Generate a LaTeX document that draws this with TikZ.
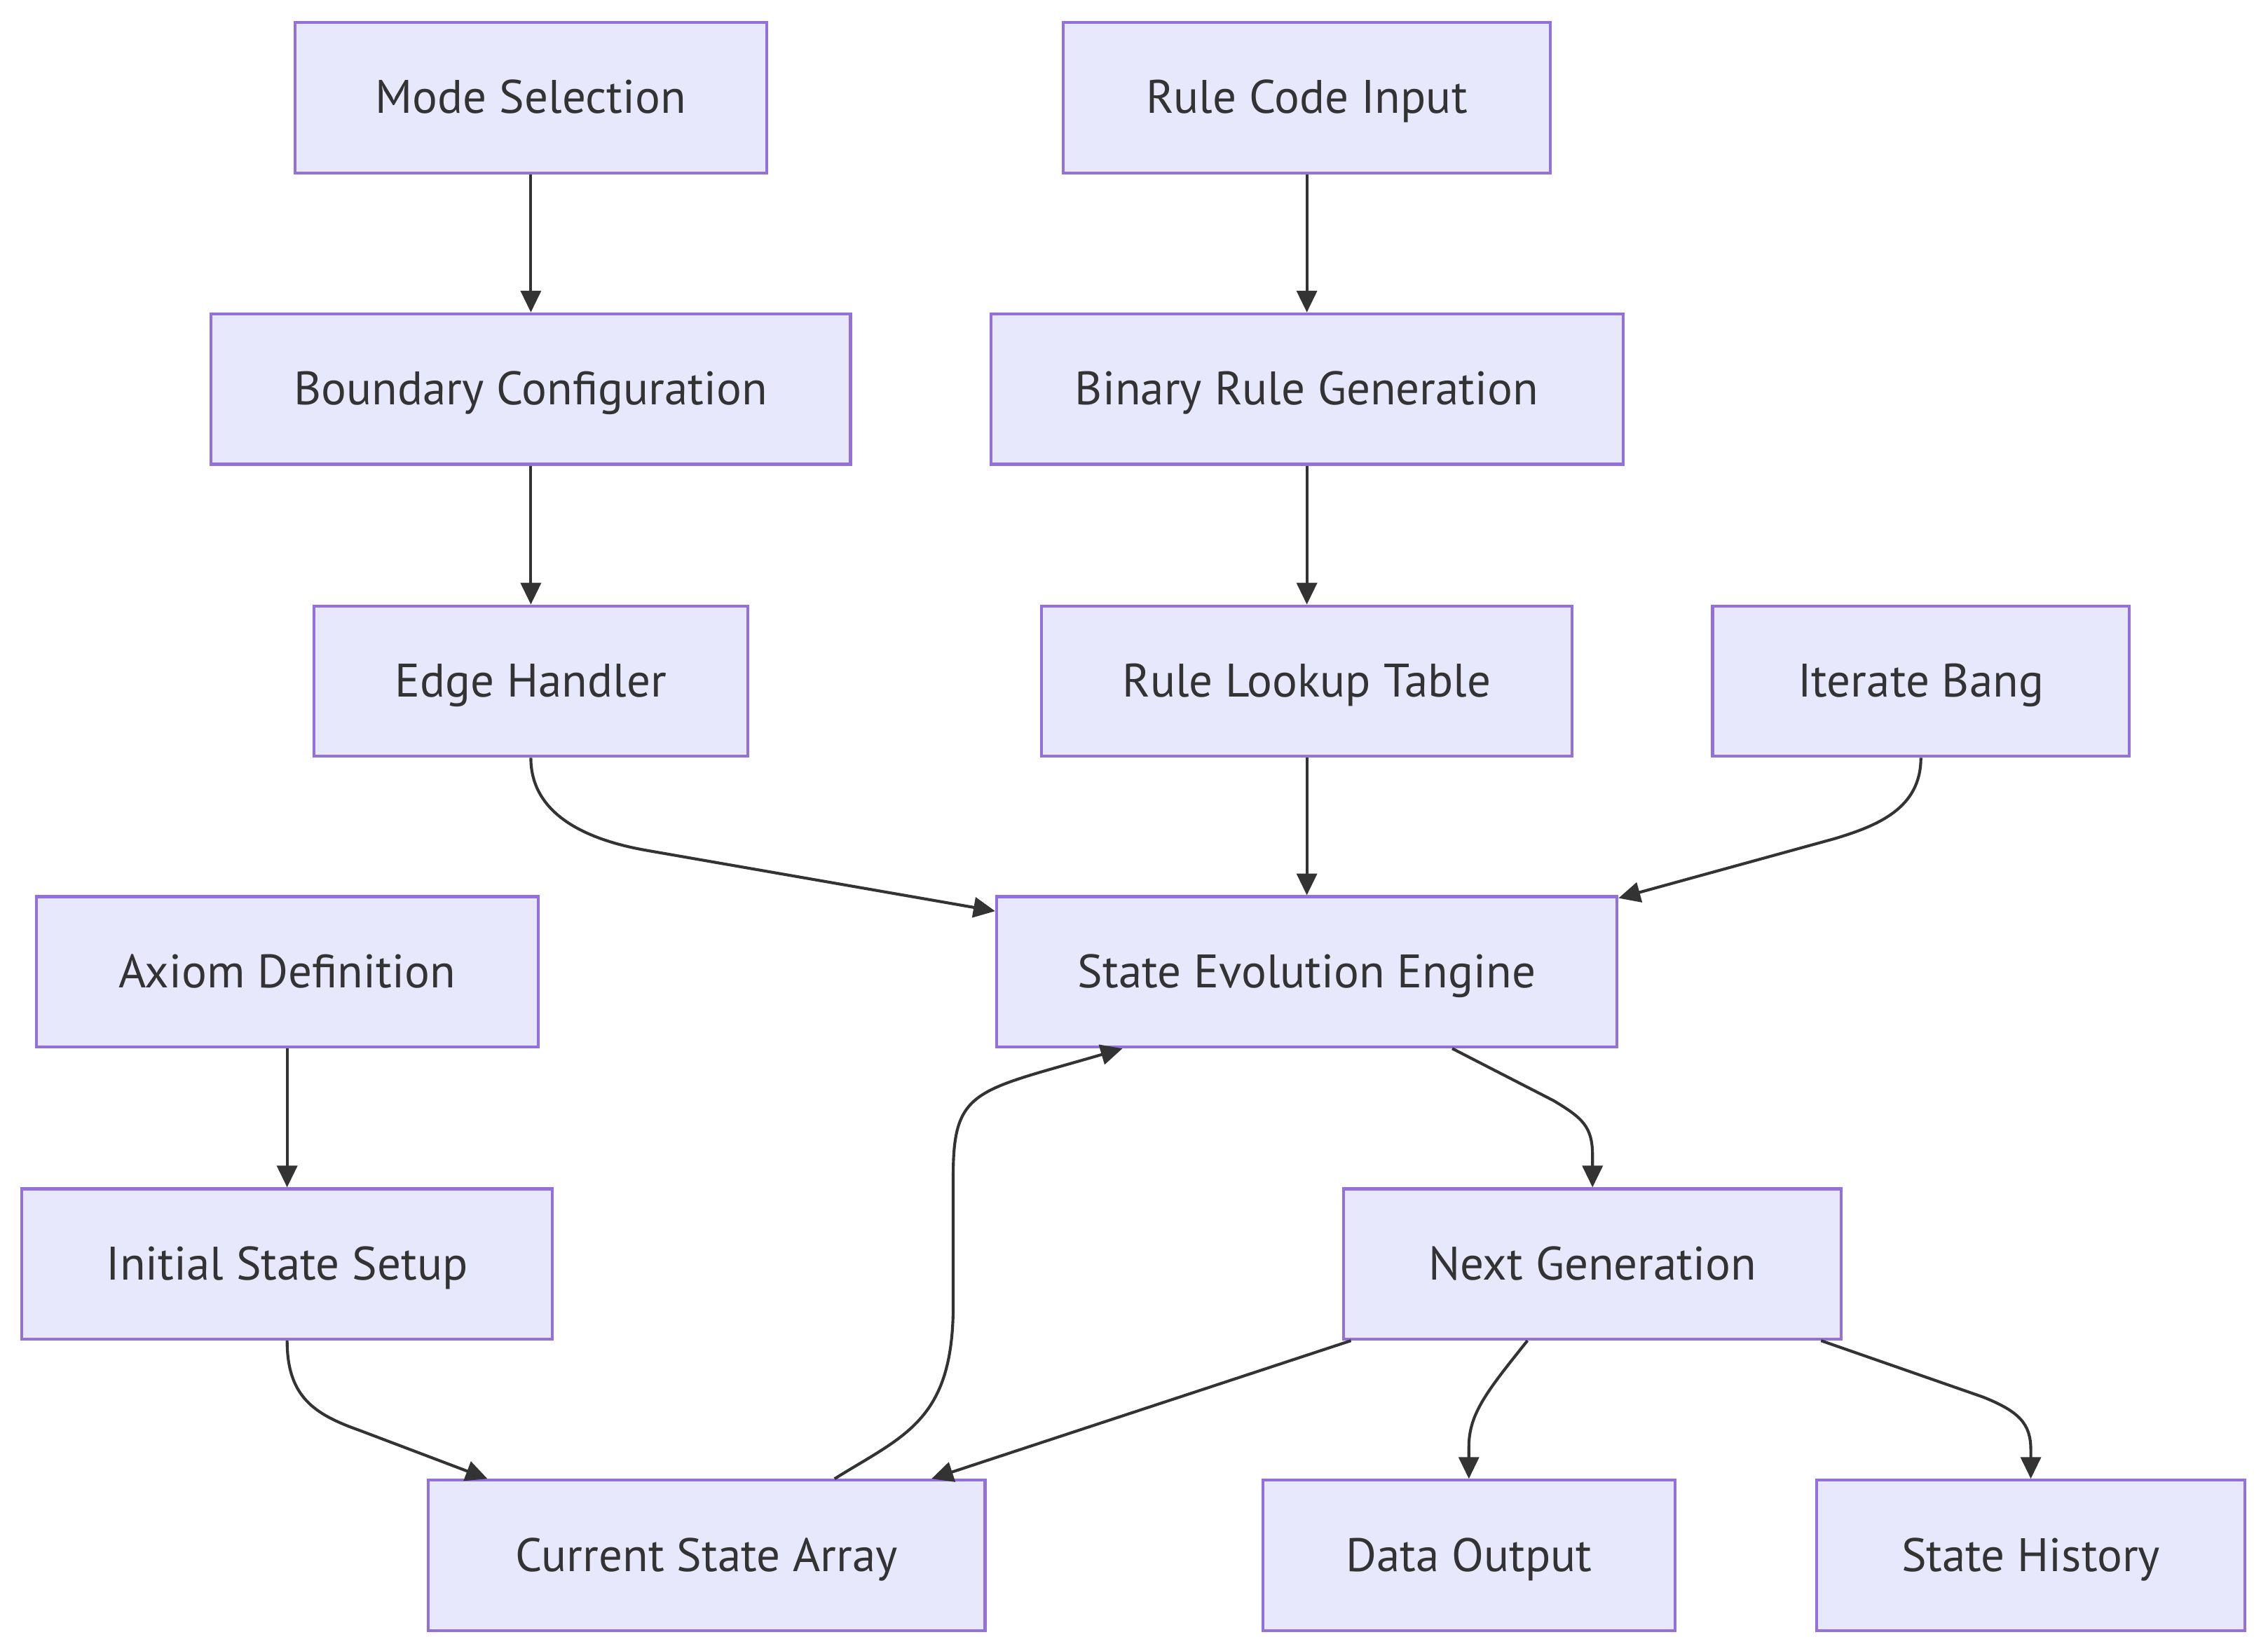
\documentclass[tikz,border=0pt]{standalone}
\usepackage{fontspec}
\setmainfont{PT Sans}
\usetikzlibrary{arrows.meta,calc}
\definecolor{boxfill}{HTML}{E8E8FC}
\definecolor{boxline}{HTML}{9370DB}
\definecolor{linec}{HTML}{333333}
\tikzset{
  box/.style={draw=boxline, fill=boxfill, line width=2pt, minimum height=104pt, inner sep=0pt,
    text height=25pt, text depth=3pt,
    text=linec, font=\fontsize{32.5}{38}\selectfont},
  arr/.style={draw=linec, line width=2pt, -{Triangle[length=15pt,width=14pt]}},
}
\begin{document}
\begin{tikzpicture}[x=1pt,y=-1pt]
\useasboundingbox (0,0) rectangle (1568,1141.6);
\node[box, minimum width=326pt] (mode) at (367,67.5) {Mode Selection};
\node[box, minimum width=337pt] (rule) at (903.5,67.5) {Rule Code Input};
\node[box, minimum width=442pt] (bound) at (367,269) {Boundary Configuration};
\node[box, minimum width=437pt] (binary) at (903.5,269) {Binary Rule Generation};
\node[box, minimum width=300pt] (edge) at (367,471) {Edge Handler};
\node[box, minimum width=367pt] (lookup) at (903.5,471) {Rule Lookup Table};
\node[box, minimum width=288pt] (iter) at (1328,471) {Iterate Bang};
\node[box, minimum width=347pt] (axiom) at (198.5,672) {Axiom Definition};
\node[box, minimum width=429pt] (engine) at (903.5,672) {State Evolution Engine};
\node[box, minimum width=367pt] (init) at (198.5,874) {Initial State Setup};
\node[box, minimum width=344pt] (next) at (1101,874) {Next Generation};
\node[box, minimum width=385pt] (current) at (488.5,1075.5) {Current State Array};
\node[box, minimum width=285pt] (data) at (1015.5,1075.5) {Data Output};
\node[box, minimum width=296pt] (hist) at (1404,1075.5) {State History};

\draw[arr] (mode) -- (bound);
\draw[arr] (bound) -- (edge);
\draw[arr] (rule) -- (binary);
\draw[arr] (binary) -- (lookup);
\draw[arr] (lookup) -- (engine);
\draw[arr] (axiom) -- (init);

\draw[arr] (edge.south) .. controls ($(edge.south)+(0,40)$) and ($(edge.south)+(40,57)$) .. ($(edge.south)+(80,64)$)
  -- ($(engine.north west)+(0,11)$);
\draw[arr] (iter.south) .. controls ($(iter.south)+(0,35)$) and ($(iter.south)+(-30,47)$) .. ($(iter.south)+(-60,56)$)
  -- ($(engine.north east)+(0,2)$);
\draw[arr] (init.south) .. controls ($(init.south)+(0,39)$) and ($(init.south)+(19,51)$) .. ($(init.south)+(50,62)$)
  -- ($(current.north west)+(42,0)$);
\draw[arr] ($(current.north west)+(282,0)$) .. controls ($(current.north west)+(330,-30)$) and ($(current.north west)+(364,-40)$) .. ($(current.north west)+(364,-120)$)
  -- ($(current.north west)+(364,-210)$)
  .. controls ($(current.north west)+(364,-270)$) and ($(current.north west)+(380,-268)$) .. ($(engine.south west)+(88,0)$);
\draw[arr] ($(engine.south west)+(316,0)$) -- ($(engine.south west)+(386,36)$)
  .. controls ($(engine.south west)+(406,48)$) and ($(next.north)+(0,-42)$) .. ($(next.north)+(0,-22)$) -- (next.north);
\draw[arr] ($(next.south west)+(6,0)$) -- ($(current.north east)+(-38,0)$);
\draw[arr] ($(next.south west)+(128,0)$) .. controls ($(next.south west)+(100,35)$) and ($(data.north)+(0,-45)$) .. ($(data.north)+(0,-22)$) -- (data.north);
\draw[arr] ($(next.south east)+(-15,0)$) -- ($(next.south east)+(97,39)$)
  .. controls ($(next.south east)+(122,49)$) and ($(hist.north)+(0,-38)$) .. ($(hist.north)+(0,-20)$) -- (hist.north);
\end{tikzpicture}
\end{document}
